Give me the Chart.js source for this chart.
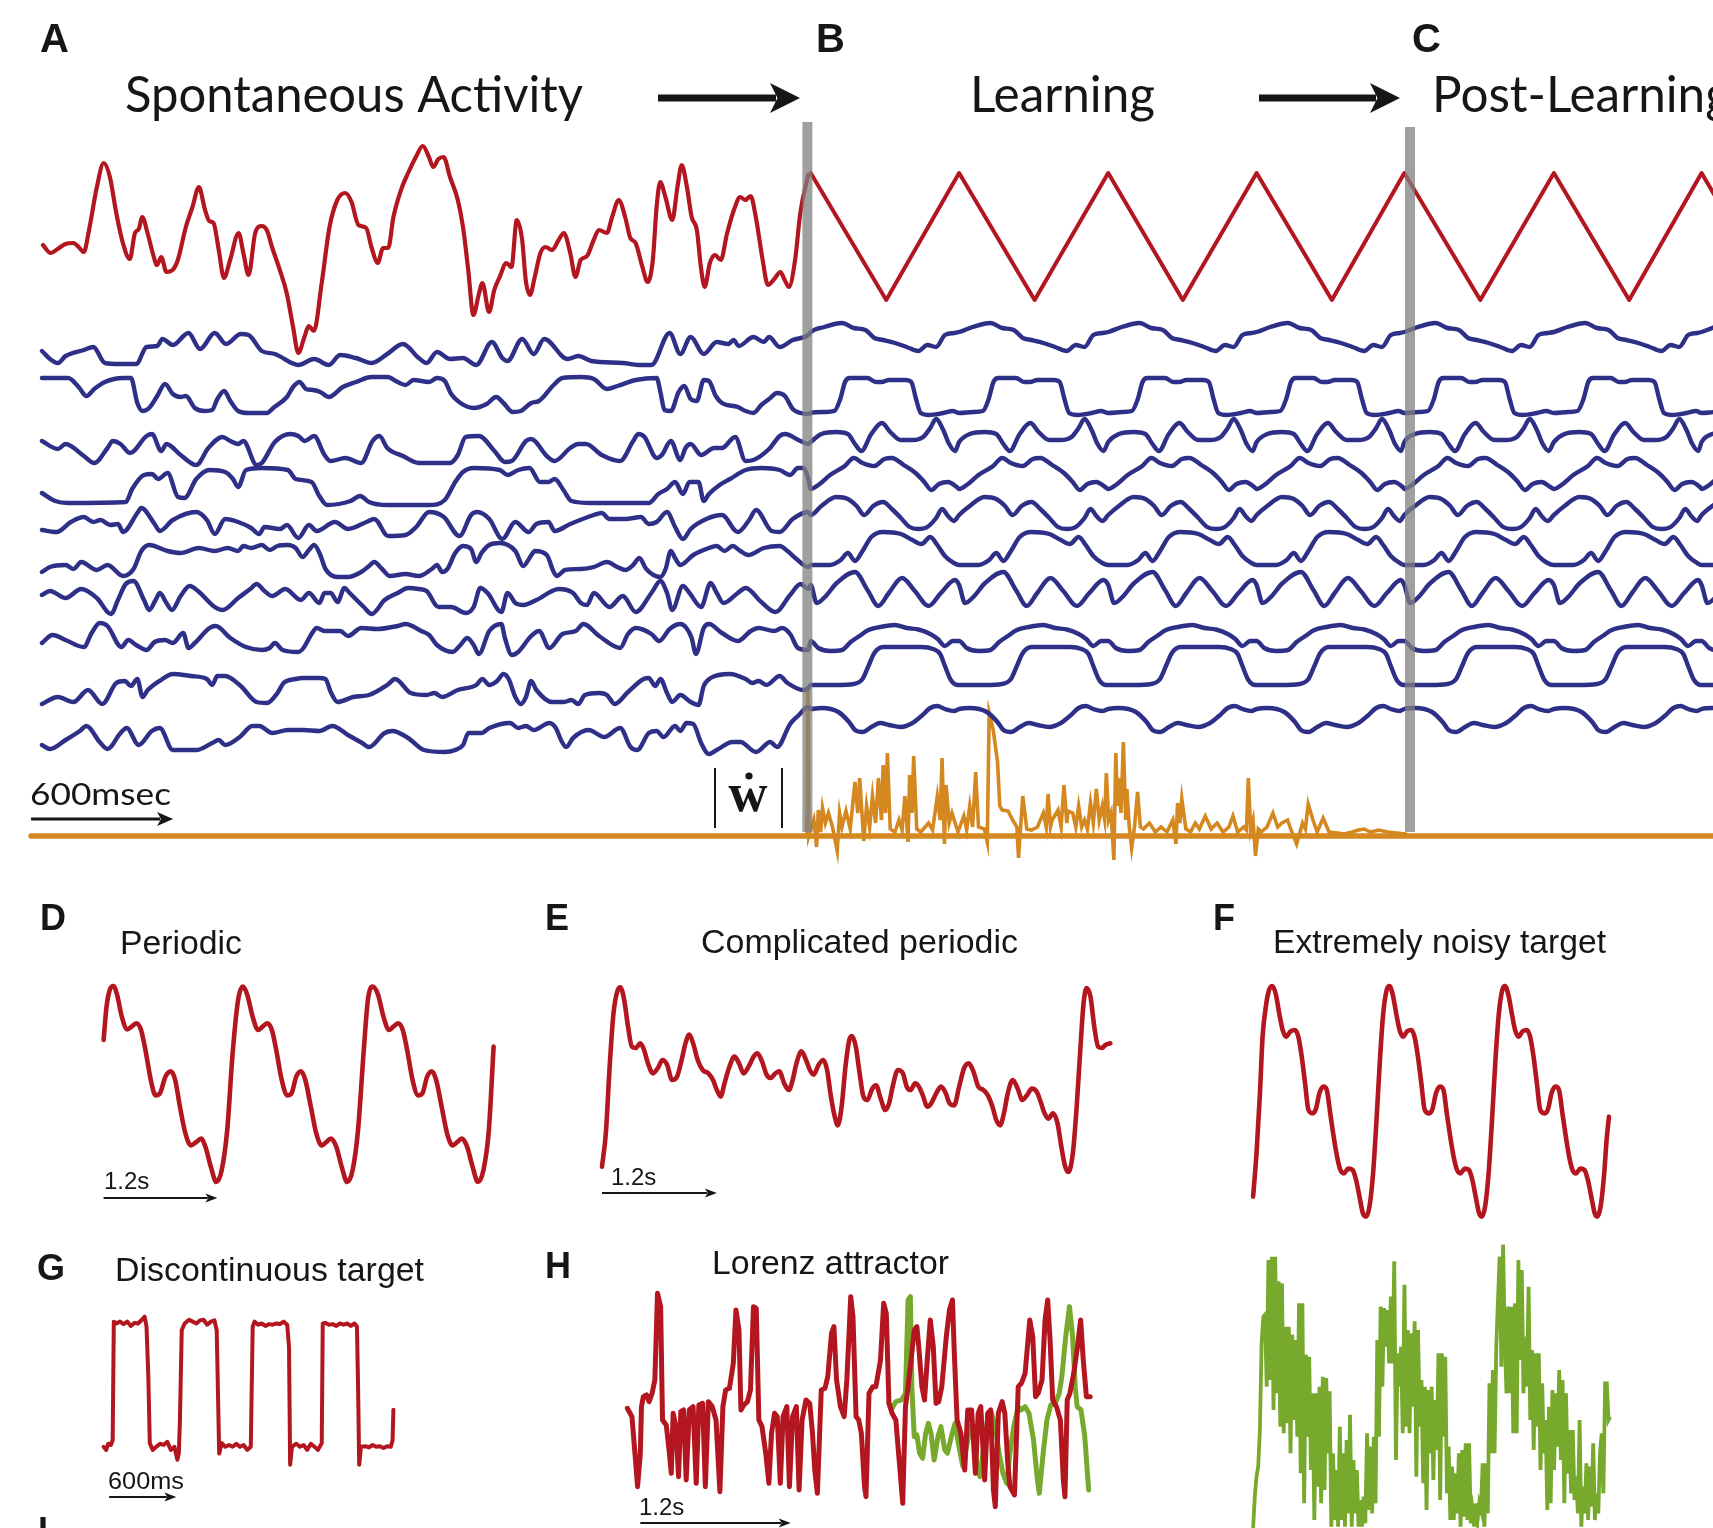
<!DOCTYPE html>
<html>
<head>
<meta charset="utf-8">
<title>FORCE learning: network activity and target functions</title>
<script src="https://cdn.jsdelivr.net/npm/chart.js@4.4.1/dist/chart.umd.min.js"></script>
<style>
  html, body { margin: 0; padding: 0; background: #ffffff; }
  #wrap { position: relative; width: 1713px; height: 1528px; overflow: hidden; }
  canvas { display: block; }
</style>
</head>
<body>
<div id="wrap"><canvas id="fig" width="1713" height="1528" style="width:1713px;height:1528px"></canvas></div>
<script>
// ================= DATA =================
// Panels A-C: time in ms, activity in arbitrary units (each trace relative to its own baseline).

// Readout z(t) during spontaneous activity
const spontRed = [[8,-0.9],[41,-1.7],[70,-1.3],[103,-0.8],[136,-0.7],[159,-1.1],[181,-1.6],[203,0.6],[236,4.9],[265,7.3],[291,5.9],[318,2.3],[346,-0.7],[375,-2.3],[397,0.3],[413,0.7],[428,1.9],[450,0.3],[472,-1.7],[490,-2.9],[508,-2.1],[530,-3.6],[556,-3.4],[578,-2.4],[612,0.9],[640,2.9],[667,4.9],[693,2.6],[711,1.5],[729,1.3],[751,-1.4],[773,-4.2],[799,-2.4],[835,0.3],[855,-1.7],[877,-3.9],[905,0.3],[932,1.0],[954,0.6],[976,-1.1],[1009,-3.4],[1038,-5.7],[1065,-9.1],[1087,-11.7],[1113,-10.1],[1131,-9.0],[1153,-9.5],[1186,-4.7],[1219,0.9],[1252,3.6],[1286,4.3],[1312,3.4],[1341,1.1],[1374,0.8],[1396,-1.1],[1423,-2.7],[1445,-1.2],[1467,-1.2],[1489,1.9],[1524,4.8],[1551,6.3],[1584,7.9],[1613,9.0],[1639,7.9],[1657,6.9],[1679,7.7],[1701,7.9],[1728,5.9],[1761,3.6],[1783,0.9],[1805,-3.4],[1827,-7.9],[1849,-5.9],[1865,-4.7],[1893,-7.6],[1915,-5.4],[1938,-4.1],[1966,-2.7],[1988,-3.1],[2010,1.6],[2033,-0.4],[2048,-4.4],[2066,-5.9],[2086,-4.1],[2110,-1.7],[2132,-1.1],[2159,-1.4],[2187,-0.4],[2209,0.3],[2236,-1.7],[2258,-4.1],[2280,-2.4],[2307,-2.0],[2335,-0.4],[2357,0.6],[2391,0.3],[2413,1.9],[2441,3.6],[2468,1.9],[2490,-0.2],[2512,-0.7],[2541,-3.1],[2563,-4.6],[2585,-2.4],[2601,2.9],[2616,5.4],[2638,3.9],[2667,1.6],[2689,4.9],[2707,7.1],[2729,4.9],[2749,1.9],[2771,0.6],[2788,-3.1],[2804,-5.1],[2826,-2.7],[2848,-1.9],[2872,-2.4],[2899,0.3],[2932,2.9],[2954,3.9],[2976,3.6],[2998,4.0],[3020,1.9],[3049,-2.4],[3071,-4.9],[3098,-4.3],[3124,-3.6],[3142,-4.4],[3160,-5.1],[3186,-2.4],[3208,2.3],[3241,6.1]];

// Triangle-wave output during and after learning (vertices)
const triangleRed = [[3252,6.3],[3571,-6.4],[3879,6.3],[4198,-6.4],[4509,6.3],[4824,-6.4],[5136,6.3],[5454,-6.4],[5760,6.3],[6081,-6.4],[6392,6.3],[6710,-6.4],[7016,6.3],[7330,-6.4]];

// Start times of each triangle cycle (peaks), used for the entrained unit activity
const cycleStarts = [3252, 3879, 4509, 5136, 5760, 6392, 7016];

// Times where learning switches on and off
const phaseChanges = [3238, 5784];

// Ten network units: spontaneous segment + one entrained cycle (phase in ms)
const unit1Spont = [[4,-0.6],[38,-1.4],[71,-1.8],[104,-1.1],[181,-0.5],[221,-0.2],[270,-1.8],[331,-1.9],[402,-1.9],[446,-0.2],[491,-0.1],[513,0.6],[557,0.0],[623,1.2],[672,-0.4],[734,1.2],[782,0.1],[844,1.1],[877,1.0],[933,-0.6],[988,-0.9],[1087,-2.0],[1154,-1.4],[1216,-2.0],[1264,-1.0],[1330,-1.3],[1397,-1.8],[1463,-0.9],[1529,0.1],[1596,-1.3],[1629,-1.8],[1673,-0.7],[1728,-1.4],[1783,-1.3],[1839,-2.0],[1905,0.3],[1949,-1.3],[1971,-1.6],[2033,0.6],[2082,-0.9],[2126,0.6],[2225,-1.4],[2270,-1.1],[2325,-1.6],[2458,-1.8],[2524,-2.0],[2579,-2.0],[2656,1.2],[2701,-0.9],[2745,0.8],[2800,-0.9],[2855,0.3],[2904,0.1],[2926,0.5],[2948,-0.1],[3010,0.8],[3054,0.3],[3076,0.8],[3121,-0.2],[3176,0.5],[3242,1.0]];
const unit1Cycle = [[0,1.3],[57,1.8],[132,2.2],[182,1.7],[231,1.5],[269,0.7],[306,0.5],[356,0.2],[405,-0.2],[455,-0.6],[493,0.0],[530,-0.2],[567,1.0],[605,1.2]];

const unit2Spont = [[4,1.7],[115,1.7],[159,0.8],[192,-0.1],[225,0.6],[270,1.3],[347,1.7],[380,1.7],[407,-0.8],[429,-1.6],[457,-1.3],[491,-0.1],[524,1.1],[557,0.1],[590,-0.2],[612,-0.1],[650,-1.3],[690,-1.6],[723,-1.5],[745,-0.4],[774,0.4],[800,-0.6],[833,-1.6],[877,-1.8],[955,-1.8],[981,-1.3],[1039,-0.2],[1065,0.8],[1092,1.3],[1120,0.6],[1149,0.5],[1180,0.3],[1216,-0.2],[1275,0.8],[1330,1.3],[1397,1.8],[1463,1.8],[1507,1.3],[1540,1.0],[1574,1.5],[1640,1.3],[1673,1.7],[1706,1.4],[1733,0.1],[1772,-0.8],[1828,-1.3],[1883,-0.9],[1923,-0.2],[1954,-0.8],[1993,-1.7],[2027,-1.6],[2071,-0.8],[2104,-0.6],[2166,1.0],[2203,1.7],[2281,1.8],[2336,1.6],[2391,0.6],[2435,0.9],[2513,1.5],[2601,1.7],[2617,0.3],[2634,-1.5],[2661,-1.6],[2694,0.3],[2718,0.9],[2745,-0.4],[2771,-0.6],[2800,1.5],[2822,1.4],[2851,-0.1],[2877,-0.8],[2944,-1.2],[2977,-1.6],[3010,-1.8],[3043,-1.0],[3076,-0.4],[3110,0.2],[3143,-0.1],[3176,-1.4],[3209,-1.8],[3242,-1.9]];
const unit2Cycle = [[0,-1.8],[60,-1.7],[100,-1.6],[125,-0.4],[145,1.3],[165,1.7],[240,1.7],[275,1.3],[300,1.3],[330,1.5],[400,1.5],[425,1.3],[445,-0.4],[465,-1.8],[500,-2.0],[560,-1.8],[600,-1.6]];

const unit3Spont = [[4,0.9],[71,0.1],[104,0.6],[181,-0.6],[225,-1.3],[281,0.2],[303,0.9],[336,0.6],[376,-0.3],[446,1.4],[469,1.6],[508,-0.1],[530,0.6],[590,-0.5],[656,-1.5],[707,0.2],[767,1.3],[800,0.9],[833,0.6],[855,0.9],[911,-1.5],[933,-1.3],[988,0.8],[1054,1.6],[1087,1.4],[1114,0.9],[1154,1.4],[1198,-0.5],[1224,-1.1],[1286,-0.8],[1353,-1.3],[1401,0.9],[1430,1.4],[1463,0.2],[1529,-0.6],[1596,-1.3],[1728,-1.3],[1761,-0.5],[1794,1.3],[1850,1.4],[1916,-0.1],[1960,-1.2],[1989,-1.1],[2049,0.9],[2071,1.1],[2137,-0.6],[2170,-1.1],[2236,0.2],[2270,0.6],[2303,0.6],[2369,-0.5],[2447,-1.1],[2502,0.9],[2524,1.6],[2550,1.3],[2601,-0.8],[2623,-0.5],[2661,0.9],[2701,-1.0],[2723,0.2],[2745,0.6],[2789,-0.5],[2844,0.2],[2877,0.2],[2933,1.3],[2977,-1.1],[3010,-1.0],[3076,0.1],[3121,1.4],[3143,1.6],[3209,0.9],[3242,0.6]];
const unit3Cycle = [[0,0.8],[45,1.6],[107,1.8],[157,1.6],[187,0.6],[214,-0.1],[256,1.6],[301,2.7],[336,1.8],[381,1.0],[430,1.0],[475,1.3],[505,2.2],[530,3.1],[560,2.0],[585,0.6],[610,-0.1]];

const unit4Spont = [[4,-0.6],[60,-1.4],[115,-1.6],[358,-1.5],[385,-0.2],[435,1.2],[469,1.3],[495,0.8],[535,1.4],[579,-1.0],[606,-1.1],[656,0.8],[712,1.7],[778,1.5],[811,0.8],[833,0.0],[866,1.7],[933,1.9],[1043,1.7],[1076,0.8],[1143,0.5],[1176,-0.9],[1209,-1.8],[1308,-1.4],[1348,-0.9],[1386,-1.5],[1463,-1.8],[1640,-1.8],[1706,-1.3],[1750,0.5],[1783,1.5],[1828,1.9],[1938,1.7],[1971,1.2],[2016,1.7],[2064,1.9],[2108,0.5],[2144,0.5],[2170,0.8],[2210,-0.4],[2241,-1.4],[2325,-1.6],[2568,-1.6],[2608,-0.7],[2645,-0.2],[2679,0.5],[2712,-0.7],[2740,0.5],[2778,0.5],[2800,-1.4],[2822,-0.7],[2867,0.2],[2911,0.8],[2977,1.7],[3043,1.9],[3121,1.7],[3165,1.2],[3198,1.9],[3220,1.9],[3242,0.8]];
const unit4Cycle = [[0,-0.2],[32,0.2],[82,1.2],[144,2.1],[182,2.9],[219,2.4],[269,2.1],[311,2.8],[343,2.9],[393,2.2],[443,1.4],[480,0.5],[510,-0.3],[542,0.3],[580,0.5],[617,0.0]];

const unit5Spont = [[4,-1.0],[66,-1.2],[126,-0.2],[181,0.3],[221,-0.2],[252,0.0],[292,-0.5],[325,-0.4],[347,-1.2],[407,0.7],[424,1.2],[480,-0.4],[502,-1.1],[557,0.0],[656,0.8],[701,0.0],[734,-1.4],[778,0.1],[833,-0.2],[888,-0.8],[922,-1.4],[944,-0.7],[1010,-0.9],[1039,-0.5],[1087,-1.8],[1132,-0.5],[1165,-1.1],[1242,-0.2],[1297,-0.9],[1375,-0.2],[1408,0.1],[1467,-1.6],[1540,-1.5],[1585,-0.7],[1640,0.8],[1702,0.3],[1768,-1.6],[1817,0.5],[1843,0.8],[1894,0.1],[1949,-1.9],[2004,-0.2],[2060,-1.2],[2093,-0.4],[2144,-0.2],[2170,-1.1],[2236,-0.4],[2336,0.5],[2369,0.7],[2402,0.1],[2469,0.1],[2535,0.3],[2568,-0.4],[2601,-0.2],[2645,0.8],[2679,-0.7],[2712,-1.9],[2745,-0.9],[2811,0.1],[2877,0.5],[2944,-1.2],[2992,0.0],[3021,1.0],[3087,-1.1],[3121,-1.2],[3176,0.1],[3242,0.8]];
const unit5Cycle = [[0,0.5],[45,1.4],[107,2.3],[157,2.1],[194,1.4],[226,0.5],[264,1.4],[306,1.8],[343,1.1],[381,0.2],[418,-0.7],[455,-0.9],[493,-0.7],[530,0.2],[555,1.1],[580,0.4],[605,-0.1]];

const unit6Spont = [[4,-1.4],[38,-0.9],[104,-0.7],[137,-1.1],[170,-0.4],[236,-1.2],[281,-0.7],[347,-1.8],[391,-1.1],[424,0.7],[457,1.3],[535,0.7],[590,0.5],[667,1.0],[734,0.7],[789,1.0],[833,0.7],[855,1.2],[888,1.0],[933,1.3],[966,0.8],[999,1.2],[1043,1.3],[1076,1.0],[1105,0.1],[1132,0.8],[1154,1.3],[1180,0.3],[1202,-1.1],[1253,-1.9],[1297,-1.9],[1353,-1.4],[1386,-0.8],[1408,-0.4],[1441,-1.1],[1474,-1.8],[1540,-1.6],[1596,-1.8],[1651,-1.1],[1673,-0.7],[1695,-1.4],[1717,-1.1],[1750,0.5],[1783,1.2],[1817,0.9],[1839,-0.4],[1861,0.5],[1894,1.3],[1938,1.5],[2004,0.7],[2038,-0.8],[2064,0.0],[2087,0.7],[2137,0.3],[2166,-1.4],[2179,-1.8],[2214,-1.2],[2281,-1.1],[2336,-0.9],[2391,-0.4],[2435,-0.9],[2469,-1.2],[2502,-0.7],[2528,0.0],[2557,-1.1],[2617,-1.9],[2639,-1.1],[2661,0.7],[2679,0.0],[2701,-0.7],[2756,0.3],[2822,1.0],[2855,1.2],[2888,0.7],[2922,1.2],[2955,0.7],[2988,0.3],[3054,1.0],[3121,1.2],[3154,0.7],[3187,0.0],[3242,-0.9]];
const unit6Cycle = [[0,-0.7],[82,-0.7],[127,-0.2],[157,0.5],[187,-0.3],[219,0.7],[256,2.1],[306,2.6],[381,2.4],[430,1.8],[468,1.4],[505,2.1],[535,1.3],[567,0.2],[605,-0.5]];

const unit7Spont = [[4,0.0],[38,0.4],[104,-0.3],[170,0.6],[236,-0.3],[296,-1.9],[325,-0.5],[358,1.1],[391,1.4],[435,-0.5],[457,-1.5],[484,-0.5],[502,0.2],[530,-0.8],[553,-1.5],[590,-0.1],[628,0.9],[663,0.4],[734,-1.2],[767,-1.5],[833,-0.3],[884,0.6],[911,1.1],[944,0.4],[977,-0.1],[1032,0.6],[1098,-0.5],[1132,0.2],[1176,-0.8],[1198,0.2],[1224,0.2],[1253,-0.7],[1282,0.7],[1304,0.2],[1364,-1.2],[1397,-1.9],[1452,-0.5],[1507,0.2],[1551,0.7],[1596,0.6],[1629,0.4],[1680,-1.2],[1733,-1.2],[1795,-1.8],[1828,-1.2],[1856,0.7],[1887,0.2],[1945,-1.7],[1971,0.2],[2004,-0.8],[2038,-1.0],[2093,-0.5],[2188,0.6],[2248,0.2],[2281,-0.8],[2307,-1.0],[2336,0.2],[2402,-1.2],[2458,-0.1],[2513,-1.7],[2579,0.2],[2617,1.4],[2645,0.2],[2667,-1.5],[2712,0.9],[2740,0.2],[2789,-1.2],[2829,1.2],[2855,0.2],[2884,-0.8],[2944,0.2],[2977,0.7],[3043,-0.7],[3103,-1.7],[3165,0.0],[3209,1.1],[3242,0.6]];
const unit7Cycle = [[0,1.0],[25,-0.8],[60,-0.2],[110,1.2],[187,2.3],[240,0.5],[286,-1.1],[330,0.2],[386,1.7],[440,0.4],[498,-1.1],[550,0.2],[610,1.5]];

const unit8Spont = [[4,-0.5],[49,0.3],[104,-0.2],[181,-0.9],[214,0.5],[248,1.5],[281,1.2],[340,-0.9],[369,-0.2],[402,-0.7],[446,-1.2],[480,-0.4],[524,-0.2],[557,-0.5],[601,0.5],[623,-1.0],[650,-0.5],[712,1.0],[738,1.2],[800,0.0],[866,-0.9],[933,-1.2],[966,-1.0],[988,-0.5],[1021,-1.2],[1087,-1.4],[1109,-1.0],[1143,0.4],[1165,1.0],[1198,0.7],[1264,0.7],[1297,0.2],[1353,1.0],[1419,0.9],[1507,1.2],[1540,1.4],[1607,0.7],[1640,0.3],[1673,-0.7],[1739,-1.4],[1772,-0.7],[1801,0.0],[1828,-0.7],[1850,-1.6],[1894,0.7],[1945,1.4],[1960,0.0],[1989,-1.7],[2016,-1.4],[2071,0.2],[2104,0.7],[2148,-1.0],[2203,0.4],[2259,0.7],[2292,1.4],[2358,0.2],[2447,-1.0],[2480,0.4],[2513,1.0],[2579,0.4],[2612,-0.3],[2656,0.9],[2701,1.4],[2727,1.0],[2749,0.0],[2767,-1.6],[2800,1.0],[2822,1.4],[2877,0.5],[2944,-0.3],[2999,0.7],[3032,1.0],[3098,0.7],[3131,1.0],[3165,0.4],[3198,-1.0],[3242,-1.2]];
const unit8Cycle = [[0,-0.3],[32,-1.0],[82,-1.3],[132,-1.2],[169,-0.4],[206,0.2],[244,0.8],[294,1.1],[356,1.3],[406,1.0],[455,0.85],[505,0.4],[537,-0.1],[567,-0.8],[600,-0.3]];

const unit9Spont = [[4,-1.9],[71,-1.2],[137,-1.7],[199,-0.5],[259,-1.9],[318,0.2],[354,0.4],[380,-0.1],[407,0.6],[429,-1.2],[451,-0.5],[513,0.6],[557,1.1],[634,0.9],[701,0.6],[723,0.0],[745,0.9],[778,0.9],[844,-0.1],[911,-1.7],[955,-1.8],[999,-0.8],[1025,0.2],[1076,0.6],[1109,0.7],[1176,0.7],[1202,0.6],[1224,-0.7],[1253,-1.7],[1319,-1.2],[1386,-1.0],[1463,0.0],[1496,0.6],[1562,-0.8],[1629,-1.0],[1662,-0.8],[1695,-1.2],[1761,-0.5],[1839,0.0],[1865,0.6],[1894,0.0],[1927,0.4],[1954,1.1],[1976,0.6],[2004,-1.2],[2027,-1.9],[2049,-1.2],[2071,0.4],[2093,-0.5],[2159,-1.7],[2210,-1.7],[2241,-1.5],[2270,-1.9],[2298,-1.0],[2358,-0.8],[2391,-1.0],[2424,-1.9],[2480,-0.7],[2546,0.6],[2568,0.7],[2595,-0.1],[2617,0.6],[2645,-0.8],[2667,-1.7],[2701,-1.0],[2745,-1.7],[2778,-2.0],[2800,-0.1],[2829,0.7],[2911,1.1],[2977,0.6],[3005,0.2],[3032,0.4],[3065,0.0],[3121,0.9],[3154,0.2],[3220,-0.5],[3242,-0.3]];
const unit9Cycle = [[0,0.0],[107,0.0],[182,0.1],[219,0.6],[244,1.9],[269,3.2],[306,3.8],[381,3.8],[468,3.8],[517,3.6],[547,3.1],[567,1.9],[592,0.5],[622,0.0]];

const unit10Spont = [[4,-1.0],[38,-1.4],[104,-0.5],[164,0.4],[192,0.9],[248,-0.7],[281,-1.4],[336,0.2],[362,0.7],[413,-1.0],[468,0.4],[502,0.7],[557,-1.5],[656,-1.5],[723,-0.8],[751,-0.5],[778,-1.0],[840,-0.2],[893,0.9],[922,0.9],[977,0.2],[1043,0.5],[1109,0.5],[1176,0.4],[1231,0.9],[1297,0.0],[1357,-0.8],[1386,-1.2],[1452,0.2],[1485,0.4],[1551,-0.3],[1618,-1.5],[1706,-1.7],[1750,-1.5],[1783,-1.0],[1806,0.2],[1861,0.2],[1894,0.7],[1982,1.2],[2016,0.7],[2049,0.9],[2082,0.5],[2148,1.2],[2175,0.7],[2197,-0.5],[2219,-1.2],[2248,-0.3],[2314,0.5],[2380,-0.2],[2447,0.7],[2491,-1.2],[2519,-1.5],[2568,0.2],[2601,0.4],[2630,-0.2],[2679,0.9],[2701,0.4],[2727,1.2],[2756,1.1],[2789,-0.8],[2822,-1.9],[2855,-1.5],[2922,-0.7],[2955,-0.7],[3021,-1.7],[3081,-0.7],[3110,-1.2],[3165,1.1],[3198,1.9],[3242,2.8]];
const unit10Cycle = [[0,2.6],[45,2.7],[117,2.3],[162,1.3],[187,0.5],[219,0.3],[256,0.8],[294,1.2],[331,1.0],[381,0.8],[430,1.2],[468,1.9],[505,2.7],[535,2.9],[567,2.6],[605,2.4]];

// |dw/dt|: zero outside learning, spiky during learning
const dwRest = [[-42,0],[3238,0],[5784,0],[7064,0]];
const dwLearning = [[3236,0],[3240,14.7],[3244,0],[3265,1.6],[3277,-1.1],[3284,2.6],[3294,0.4],[3302,2.8],[3314,1.3],[3327,2.3],[3344,0.9],[3364,-1.5],[3374,2.3],[3384,0.9],[3401,2.5],[3419,0.7],[3439,5.4],[3451,2.3],[3459,5.8],[3476,-0.5],[3488,3.0],[3501,0.9],[3513,4.0],[3526,1.3],[3538,5.8],[3551,1.6],[3558,7.1],[3568,2.3],[3576,8.3],[3588,0.7],[3608,0.4],[3625,1.6],[3638,0.6],[3650,4.0],[3663,-0.6],[3670,6.1],[3680,2.3],[3687,8.0],[3700,0.7],[3717,0.4],[3750,1.3],[3767,0.6],[3787,4.0],[3799,1.6],[3807,7.8],[3817,-0.8],[3824,5.1],[3837,1.3],[3849,2.3],[3874,0.4],[3899,2.0],[3911,0.6],[3924,3.0],[3936,0.9],[3949,6.4],[3961,0.9],[3986,0.7],[3998,-0.6],[4006,12.3],[4023,10.6],[4041,7.5],[4051,3.0],[4061,2.6],[4086,2.5],[4105,1.6],[4123,0.9],[4130,-2.2],[4148,4.0],[4165,0.7],[4185,0.6],[4210,0.9],[4235,2.3],[4247,0.9],[4255,4.2],[4265,0.9],[4272,1.6],[4297,2.6],[4310,0.9],[4322,5.1],[4334,1.3],[4339,2.5],[4359,2.3],[4372,0.9],[4384,3.0],[4397,0.9],[4409,1.6],[4421,0.7],[4434,3.3],[4446,1.3],[4459,4.7],[4471,1.6],[4484,3.0],[4494,1.6],[4501,6.3],[4511,1.6],[4521,2.3],[4533,-2.4],[4541,8.3],[4548,3.0],[4553,5.8],[4563,2.3],[4573,9.4],[4583,1.6],[4588,4.7],[4598,0.9],[4608,-1.2],[4620,0.9],[4633,4.4],[4645,0.9],[4658,0.7],[4683,1.3],[4708,0.4],[4732,0.9],[4757,0.4],[4782,1.6],[4795,-0.8],[4802,3.3],[4812,1.3],[4820,3.7],[4837,0.7],[4857,0.4],[4877,1.3],[4894,0.7],[4919,2.0],[4944,0.7],[4969,1.3],[4994,0.4],[5019,0.9],[5036,2.0],[5056,0.4],[5081,0.9],[5093,0.6],[5101,5.8],[5111,0.6],[5121,1.6],[5131,-2.0],[5143,0.7],[5155,0.4],[5180,0.9],[5205,2.3],[5225,0.9],[5243,1.3],[5267,1.6],[5280,0.7],[5305,-0.8],[5330,1.3],[5342,0.7],[5354,3.2],[5374,1.6],[5392,0.4],[5417,1.8],[5442,0.4],[5479,0.3],[5504,0.2],[5541,0.4],[5566,0.6],[5591,0.7],[5616,0.4],[5653,0.6],[5690,0.4],[5728,0.3],[5765,0.2],[5777,0.0]];

// Panels D-H: time in s, output in arbitrary units
const periodicOut = [[0,0.6],[0.031,1.1],[0.065,1.35],[0.104,1.41],[0.142,1.28],[0.192,0.95],[0.249,0.76],[0.295,0.8],[0.345,0.85],[0.395,0.75],[0.441,0.45],[0.498,0],[0.548,-0.23],[0.594,-0.2],[0.652,0.05],[0.709,0.13],[0.755,0],[0.805,-0.4],[0.863,-0.8],[0.92,-0.98],[0.978,-0.93],[1.028,-0.88],[1.074,-1],[1.131,-1.3],[1.189,-1.53],[1.246,-1.35],[1.304,-0.75],[1.361,0.4],[1.419,1.2],[1.469,1.4],[1.515,1.28],[1.572,0.95],[1.63,0.75],[1.676,0.8],[1.725,0.85],[1.775,0.75],[1.821,0.45],[1.879,0],[1.936,-0.23],[1.982,-0.2],[2.032,0.05],[2.082,0.13],[2.128,0],[2.186,-0.4],[2.243,-0.8],[2.301,-0.98],[2.35,-0.93],[2.396,-0.88],[2.454,-1],[2.511,-1.3],[2.569,-1.53],[2.627,-1.35],[2.684,-0.75],[2.742,0.4],[2.788,1.2],[2.837,1.4],[2.895,1.28],[2.952,0.95],[3.01,0.75],[3.056,0.8],[3.106,0.85],[3.156,0.75],[3.202,0.45],[3.259,0],[3.317,-0.23],[3.363,-0.2],[3.413,0.05],[3.462,0.13],[3.508,0],[3.566,-0.4],[3.623,-0.8],[3.681,-0.98],[3.731,-0.93],[3.777,-0.88],[3.834,-1],[3.892,-1.3],[3.949,-1.53],[4.007,-1.35],[4.064,-0.75],[4.114,0.5]];

const complicatedOut = [[0,-1.3],[0.04,-0.8],[0.08,0.2],[0.12,1.0],[0.16,1.33],[0.192,1.39],[0.232,1.2],[0.272,0.8],[0.312,0.5],[0.352,0.48],[0.4,0.55],[0.44,0.45],[0.48,0.25],[0.532,0.1],[0.584,0.18],[0.632,0.3],[0.68,0.23],[0.732,0],[0.784,0.05],[0.832,0.3],[0.872,0.55],[0.912,0.68],[0.952,0.55],[1.0,0.3],[1.052,0.15],[1.112,0.1],[1.16,0],[1.2,-0.15],[1.24,-0.25],[1.28,-0.05],[1.332,0.2],[1.384,0.35],[1.432,0.25],[1.48,0.1],[1.532,0.2],[1.584,0.35],[1.624,0.4],[1.672,0.28],[1.72,0.08],[1.76,0.03],[1.812,0.1],[1.852,0.13],[1.904,-0.05],[1.952,-0.15],[1.992,0],[2.032,0.25],[2.084,0.43],[2.132,0.3],[2.172,0.15],[2.212,0.08],[2.264,0.23],[2.312,0.3],[2.352,0.15],[2.392,-0.25],[2.432,-0.55],[2.464,-0.68],[2.504,-0.4],[2.544,0.2],[2.584,0.6],[2.612,0.66],[2.652,0.5],[2.692,0.1],[2.732,-0.25],[2.772,-0.3],[2.824,-0.13],[2.864,-0.08],[2.912,-0.28],[2.96,-0.45],[3.0,-0.35],[3.04,-0.08],[3.092,0.15],[3.144,0.1],[3.184,-0.1],[3.224,-0.15],[3.272,-0.05],[3.312,-0.1],[3.352,-0.23],[3.4,-0.4],[3.44,-0.35],[3.492,-0.2],[3.544,-0.1],[3.592,-0.2],[3.632,-0.35],[3.68,-0.38],[3.732,-0.1],[3.784,0.18],[3.832,0.25],[3.88,0.13],[3.932,-0.1],[3.984,-0.15],[4.032,-0.23],[4.08,-0.4],[4.12,-0.6],[4.16,-0.68],[4.2,-0.5],[4.24,-0.2],[4.292,0],[4.344,-0.13],[4.392,-0.3],[4.44,-0.23],[4.492,-0.13],[4.544,-0.18],[4.584,-0.33],[4.624,-0.5],[4.664,-0.58],[4.712,-0.5],[4.76,-0.65],[4.8,-1.0],[4.84,-1.3],[4.872,-1.38],[4.92,-1.1],[4.96,-0.4],[5.0,0.5],[5.032,1.15],[5.064,1.38],[5.104,1.25],[5.144,0.8],[5.184,0.5],[5.224,0.48],[5.264,0.53],[5.312,0.55]];

const noisyTargetOut = [[0,-1.75],[0.036,-1.1],[0.072,-0.2],[0.1,0.65],[0.132,1.08],[0.168,1.35],[0.204,1.41],[0.24,1.28],[0.275,1.0],[0.311,0.75],[0.347,0.65],[0.394,0.73],[0.44,0.75],[0.476,0.65],[0.512,0.35],[0.547,-0.05],[0.583,-0.45],[0.626,-0.5],[0.662,-0.43],[0.698,-0.2],[0.741,-0.1],[0.776,-0.15],[0.812,-0.5],[0.848,-0.85],[0.884,-1.15],[0.919,-1.35],[0.955,-1.4],[1.002,-1.33],[1.048,-1.35],[1.084,-1.5],[1.12,-1.75],[1.156,-2.0],[1.191,-2.05],[1.227,-1.88],[1.263,-1.4],[1.299,-0.6],[1.335,0.3],[1.37,1.0],[1.406,1.35],[1.435,1.41],[1.47,1.28],[1.506,1.0],[1.542,0.75],[1.578,0.65],[1.621,0.73],[1.664,0.75],[1.699,0.65],[1.735,0.35],[1.771,-0.05],[1.807,-0.45],[1.853,-0.5],[1.889,-0.43],[1.925,-0.2],[1.968,-0.1],[2.004,-0.15],[2.039,-0.5],[2.075,-0.85],[2.111,-1.15],[2.147,-1.35],[2.182,-1.4],[2.229,-1.33],[2.272,-1.35],[2.308,-1.5],[2.343,-1.75],[2.379,-2.0],[2.408,-2.05],[2.444,-1.88],[2.479,-1.4],[2.515,-0.6],[2.551,0.3],[2.587,1.0],[2.623,1.35],[2.651,1.41],[2.687,1.28],[2.723,1.0],[2.758,0.75],[2.794,0.65],[2.837,0.73],[2.88,0.75],[2.916,0.65],[2.952,0.35],[2.987,-0.05],[3.023,-0.45],[3.07,-0.5],[3.106,-0.43],[3.141,-0.2],[3.184,-0.1],[3.22,-0.15],[3.256,-0.5],[3.292,-0.85],[3.327,-1.15],[3.363,-1.35],[3.399,-1.4],[3.445,-1.33],[3.488,-1.35],[3.524,-1.5],[3.56,-1.75],[3.596,-2.0],[3.624,-2.05],[3.66,-1.88],[3.696,-1.4],[3.721,-0.9],[3.746,-0.55]];

// Noisy target itself, sampled every noisyDt seconds
const noisyDt = 0.0179;
const noisyTargetRaw = [-1.62,-1.15,-0.85,-0.70,-0.15,1.15,1.55,1.58,0.50,2.40,0.60,2.45,0.15,2.45,0.40,2.08,-0.10,2.05,-0.20,1.40,-0.05,1.40,-0.50,1.28,0.00,1.20,-0.25,1.75,-0.80,1.75,-1.25,0.98,-0.25,0.95,-0.75,0.40,-1.50,0.40,-1.00,0.50,-1.25,0.65,-1.05,0.63,-0.50,0.43,-1.60,-0.50,-1.50,-0.75,-1.60,-0.10,-1.50,-0.50,-1.60,-0.30,-1.40,0.08,-1.60,-0.60,-1.40,-0.75,-1.60,-1.20,-1.60,-1.15,-1.55,-0.20,-1.35,-0.40,-1.40,-0.25,-1.25,1.20,-0.25,1.70,0.50,1.68,1.10,1.65,0.85,1.85,0.85,2.38,-0.60,1.00,0.50,1.10,-0.20,2.03,-0.10,1.35,-0.20,1.30,0.20,1.48,-0.85,1.35,-0.10,0.60,-0.95,0.50,-1.35,0.45,-0.50,0.50,-0.90,0.30,-0.45,1.00,-1.20,1.00,-0.25,0.95,-1.10,-0.40,-1.50,-0.70,-1.50,-0.80,-1.40,-0.50,-1.60,-0.45,-1.45,-0.35,-1.50,-0.35,-1.55,-1.35,-1.60,-1.25,-1.50,-1.25,-1.35,-0.65,-1.60,-0.65,-1.40,0.55,-0.50,0.75,-0.50,1.10,1.80,2.45,0.80,2.63,1.20,0.40,1.70,0.40,1.70,-0.20,1.75,-0.20,2.40,0.90,2.25,0.40,1.25,0.50,2.00,0.00,1.05,-0.45,1.00,-0.10,1.00,-0.75,0.55,-0.50,0.00,-1.35,0.20,-1.25,0.45,-0.75,0.40,-0.40,0.75,-0.60,0.60,-1.25,0.40,-0.80,-0.15,-1.10,-0.15,-1.20,-0.85,-1.40,0.00,-1.60,-1.00,-1.40,-0.65,-1.50,-0.70,-1.30,-0.35,-1.50,-1.10,-1.40,-0.50,-0.20,-1.10,0.55,0.55,0.00,0.05];

const discontinuousOut = [[0,-1.03],[0.023,-1.08],[0.042,-0.98],[0.065,-1.0],[0.081,-0.92],[0.091,1.0],[0.114,0.97],[0.146,1.0],[0.178,0.96],[0.211,1.0],[0.243,0.93],[0.276,0.98],[0.308,0.97],[0.341,1.03],[0.366,1.08],[0.383,0.92],[0.399,0.11],[0.412,-0.97],[0.438,-1.08],[0.47,-1.03],[0.503,-0.98],[0.535,-1.0],[0.568,-0.95],[0.6,-1.08],[0.632,-1.03],[0.658,-1.24],[0.671,-1.14],[0.681,-0.59],[0.697,0.86],[0.723,0.97],[0.762,1.03],[0.795,1.0],[0.827,0.97],[0.859,1.02],[0.892,1.03],[0.924,0.95],[0.957,1.0],[0.989,1.02],[1.009,0.86],[1.022,-0.32],[1.031,-1.14],[1.054,-0.97],[1.086,-1.03],[1.119,-1.0],[1.151,-1.03],[1.184,-0.98],[1.216,-1.03],[1.249,-1.0],[1.281,-1.08],[1.313,-1.03],[1.33,0.92],[1.346,1.0],[1.378,0.95],[1.411,0.97],[1.443,0.93],[1.476,0.96],[1.508,0.95],[1.54,0.97],[1.573,0.96],[1.605,1.0],[1.638,0.95],[1.654,0.59],[1.664,-1.32],[1.68,-1.03],[1.719,-0.98],[1.751,-1.03],[1.784,-1.0],[1.816,-1.08],[1.849,-0.98],[1.881,-1.03],[1.913,-1.08],[1.946,-0.97],[1.955,0.97],[1.978,0.98],[2.011,0.95],[2.043,0.96],[2.076,0.93],[2.108,0.97],[2.14,0.95],[2.173,0.97],[2.205,0.93],[2.238,0.97],[2.26,0.92],[2.27,-0.05],[2.28,-1.32],[2.296,-1.03],[2.335,-1.02],[2.367,-1.04],[2.4,-1.0],[2.432,-1.03],[2.465,-1.02],[2.497,-1.05],[2.53,-1.02],[2.562,-1.03],[2.578,-0.92],[2.585,-0.43]];

const lorenzTarget = [[0,-0.75],[0.037,-2.0],[0.061,-7.5],[0.082,-12.5],[0.104,-7.5],[0.113,-0.5],[0.128,1.0],[0.153,1.25],[0.174,0.25],[0.198,1.5],[0.22,3.5],[0.241,16.5],[0.266,14.5],[0.281,-2.5],[0.311,-3.25],[0.336,-7.5],[0.351,-10.5],[0.366,-1.5],[0.388,-3.5],[0.409,-11.0],[0.427,-1.25],[0.449,-1.0],[0.47,-11.5],[0.495,-1.0],[0.525,-0.5],[0.55,-12.0],[0.571,-0.25],[0.601,0.0],[0.623,-12.5],[0.647,0.25],[0.678,-0.5],[0.708,-2.5],[0.739,-13.25],[0.763,-0.5],[0.785,2.0],[0.815,2.25],[0.846,6.0],[0.867,14.0],[0.891,11.0],[0.907,-1.0],[0.931,-0.25],[0.959,0.25],[0.983,2.0],[1.007,14.5],[1.029,14.25],[1.05,-2.5],[1.075,-3.5],[1.105,-7.5],[1.13,-12.0],[1.151,-4.5],[1.175,-1.5],[1.197,-2.0],[1.221,-12.0],[1.243,-2.0],[1.273,-0.5],[1.294,-12.5],[1.319,-2.0],[1.349,-0.5],[1.371,-13.0],[1.395,-2.5],[1.426,0.5],[1.456,0.0],[1.478,-4.5],[1.496,-10.0],[1.517,-13.5],[1.548,2.0],[1.578,2.25],[1.6,4.0],[1.63,10.5],[1.649,11.5],[1.67,3.5],[1.701,-0.5],[1.731,-2.0],[1.752,3.5],[1.771,11.0],[1.783,16.0],[1.801,13.0],[1.826,-2.0],[1.847,-2.5],[1.868,-4.5],[1.893,-12.5],[1.905,-14.0],[1.929,1.5],[1.96,2.5],[1.984,2.5],[2.021,6.5],[2.046,15.0],[2.067,13.5],[2.088,0.0],[2.113,-1.5],[2.143,-2.5],[2.174,-9.5],[2.198,-15.0],[2.22,-0.5],[2.241,2.5],[2.265,6.5],[2.29,11.0],[2.311,11.5],[2.326,8.5],[2.351,2.5],[2.372,0.5],[2.394,6.5],[2.418,12.5],[2.442,8.5],[2.464,0.0],[2.485,0.25],[2.51,2.5],[2.546,10.0],[2.571,14.0],[2.595,15.5],[2.61,7.5],[2.632,-2.5],[2.662,-4.5],[2.693,-10.0],[2.717,-1.0],[2.748,-1.0],[2.778,-10.5],[2.8,-1.5],[2.821,-0.5],[2.852,-11.5],[2.876,-1.5],[2.9,-1.0],[2.922,-13.0],[2.937,-15.5],[2.961,-1.5],[2.992,0.25],[3.013,-1.5],[3.035,-8.5],[3.053,-12.5],[3.09,-13.75],[3.12,2.5],[3.145,3.0],[3.175,4.5],[3.212,12.5],[3.236,10.0],[3.258,1.0],[3.279,1.5],[3.31,3.5],[3.334,12.5],[3.355,15.5],[3.374,9.5],[3.395,0.5],[3.425,-0.5],[3.456,-2.5],[3.48,-11.5],[3.493,-14.0],[3.511,0.5],[3.532,1.5],[3.563,4.5],[3.593,8.5],[3.618,12.5],[3.639,6.5],[3.664,1.0],[3.694,1.0]];

const lorenzNetwork = [[2.088,0.0],[2.113,-0.75],[2.143,0.25],[2.189,0.5],[2.22,1.5],[2.241,15.5],[2.259,16.0],[2.271,2.5],[2.29,-5.0],[2.311,-4.75],[2.333,-7.5],[2.357,-8.25],[2.381,-4.5],[2.403,-3.0],[2.424,-4.5],[2.449,-8.5],[2.479,-5.0],[2.503,-3.5],[2.534,-7.0],[2.555,-7.5],[2.586,-5.0],[2.616,-3.0],[2.647,-6.5],[2.678,-9.5],[2.708,-6.5],[2.739,-3.5],[2.769,-4.5],[2.79,-9.5],[2.815,-11.0],[2.845,-6.5],[2.876,-2.5],[2.906,-1.5],[2.937,-3.5],[2.967,-7.5],[2.998,-10.5],[3.029,-12.0],[3.053,-7.5],[3.084,-3.5],[3.12,-0.5],[3.145,-1.0],[3.175,-0.5],[3.206,-1.5],[3.242,-5.5],[3.273,-11.5],[3.288,-13.5],[3.319,-7.5],[3.349,-2.5],[3.38,-0.25],[3.416,0.0],[3.447,1.5],[3.468,4.0],[3.499,10.0],[3.529,14.5],[3.554,10.0],[3.575,2.5],[3.59,-0.5],[3.621,-1.0],[3.651,-5.0],[3.682,-13.0]];

// ================= LAYOUT & STYLE =================
const W = 1713, H = 1528;
const RED = '#B3161F', BLUE = '#2E3087', ORANGE = '#D4881F', GREEN = '#77A92D', INK = '#161616';
const SANS = '"Liberation Sans", Arial, sans-serif';
const TITLE = 'Lato, "Open Sans", sans-serif';

// A data frame maps value 0 to a pixel origin with a given pixel-per-unit factor.
function spanX(x0, k) { return { min: -x0 / k, max: (W - x0) / k }; }
function spanY(y0, k) { return { min: (y0 - H) / k, max: y0 / k }; }

const unitBaselines = [345, 395, 450, 487, 520, 558, 595, 638, 685, 735];

const scales = {
  xTop: spanX(41, 1 / 4.225),
  yRed: spanY(236, 10),
  yDw: spanY(836, 10),
  xD: spanX(103.6, 94.8), yD: spanY(1080, 66.67),
  xE: spanX(602, 95.7),   yE: spanY(1080, 66.67),
  xF: spanX(1253.1, 95.0), yF: spanY(1080, 66.67), yN: spanY(1420, 66.67),
  xG: spanX(103.6, 112.1), yG: spanY(1383.3, 61.67),
  xH: spanX(627.3, 125.3), yH: spanY(1403.3, 6.667)
};
unitBaselines.forEach((b, i) => { scales['yU' + (i + 1)] = spanY(b, 10); });
Object.keys(scales).forEach(k => {
  Object.assign(scales[k], { type: 'linear', display: false, grace: 0, ticks: { display: false }, grid: { display: false } });
});

const xy = pairs => pairs.map(([x, y]) => ({ x, y }));
const withCycles = (spont, cycle) => {
  const pts = spont.slice();
  cycleStarts.forEach(s => cycle.forEach(([p, v]) => pts.push([s + p, v])));
  return pts;
};

const unitSpont = [unit1Spont, unit2Spont, unit3Spont, unit4Spont, unit5Spont, unit6Spont, unit7Spont, unit8Spont, unit9Spont, unit10Spont];
const unitCycle = [unit1Cycle, unit2Cycle, unit3Cycle, unit4Cycle, unit5Cycle, unit6Cycle, unit7Cycle, unit8Cycle, unit9Cycle, unit10Cycle];

const smooth = { cubicInterpolationMode: 'monotone', pointRadius: 0, fill: false, borderJoinStyle: 'round', borderCapStyle: 'round' };
const sharp = { tension: 0, pointRadius: 0, fill: false, borderJoinStyle: 'round', borderCapStyle: 'round' };

const datasets = [];
// Top: readout
datasets.push(Object.assign({ data: xy(spontRed), xAxisID: 'xTop', yAxisID: 'yRed', borderColor: RED, borderWidth: 4.2 }, smooth));
datasets.push(Object.assign({ data: xy(triangleRed), xAxisID: 'xTop', yAxisID: 'yRed', borderColor: RED, borderWidth: 4 }, sharp));
// Top: units
unitSpont.forEach((sp, i) => {
  datasets.push(Object.assign({ data: xy(withCycles(sp, unitCycle[i])), xAxisID: 'xTop', yAxisID: 'yU' + (i + 1), borderColor: BLUE, borderWidth: 4.4 }, smooth));
});
// Top: weight change
datasets.push({ data: xy(dwLearning), xAxisID: 'xTop', yAxisID: 'yDw', borderColor: ORANGE, borderWidth: 3.6, tension: 0, pointRadius: 0, fill: false, borderJoinStyle: 'miter' });
datasets.push(Object.assign({ data: xy(dwRest), xAxisID: 'xTop', yAxisID: 'yDw', borderColor: ORANGE, borderWidth: 5.5 }, sharp));
// D, E, F
datasets.push(Object.assign({ data: xy(periodicOut), xAxisID: 'xD', yAxisID: 'yD', borderColor: RED, borderWidth: 4.6 }, smooth));
datasets.push(Object.assign({ data: xy(complicatedOut), xAxisID: 'xE', yAxisID: 'yE', borderColor: RED, borderWidth: 4.6 }, smooth));
datasets.push(Object.assign({ data: xy(noisyTargetOut), xAxisID: 'xF', yAxisID: 'yF', borderColor: RED, borderWidth: 4.6 }, smooth));
datasets.push({ data: noisyTargetRaw.map((v, i) => ({ x: i * noisyDt, y: v })), xAxisID: 'xF', yAxisID: 'yN', borderColor: GREEN, borderWidth: 3.8, borderJoinStyle: 'miter', tension: 0, pointRadius: 0, fill: false });
// G
datasets.push(Object.assign({ data: xy(discontinuousOut), xAxisID: 'xG', yAxisID: 'yG', borderColor: RED, borderWidth: 4 }, sharp));
// H (target drawn over the network output)
datasets.push(Object.assign({ data: xy(lorenzTarget), xAxisID: 'xH', yAxisID: 'yH', borderColor: RED, borderWidth: 5 }, sharp));
datasets.push(Object.assign({ data: xy(lorenzNetwork), xAxisID: 'xH', yAxisID: 'yH', borderColor: GREEN, borderWidth: 5 }, sharp));

// ================= ANNOTATIONS =================
function fitText(c, text, x, baseline, font, width) {
  c.font = font;
  const w = c.measureText(text).width;
  const sx = width ? width / w : 1;
  c.save();
  c.translate(x, baseline);
  c.scale(sx, 1);
  c.fillText(text, 0, 0);
  c.restore();
  return sx;
}
function blockArrow(c, x1, x2, y, lw, hl, hh) {
  c.fillRect(x1, y - lw / 2, x2 - hl * 0.8 - x1, lw);
  c.beginPath();
  c.moveTo(x2, y);
  c.lineTo(x2 - hl, y - hh);
  c.lineTo(x2 - hl * 0.75, y);
  c.lineTo(x2 - hl, y + hh);
  c.closePath();
  c.fill();
}
function scaleBar(c, scale, t0, t1, y, lw, hl, hh) {
  const x1 = scale.getPixelForValue(t0), x2 = scale.getPixelForValue(t1);
  blockArrow(c, x1, x2, y, lw, hl, hh);
}

const decor = {
  id: 'decor',
  afterDatasetsDraw(chart) {
    const c = chart.ctx, s = chart.scales;
    c.save();
    // learning on / off markers
    const barTop = [122, 127], barBottom = [832, 832];
    c.fillStyle = 'rgba(128,128,128,0.75)';
    phaseChanges.forEach((t, i) => {
      const x = s.xTop.getPixelForValue(t);
      c.fillRect(x - 5, barTop[i], 10, barBottom[i] - barTop[i]);
    });

    c.fillStyle = INK;
    c.textBaseline = 'alphabetic';
    c.textAlign = 'left';
    // panel letters
    c.font = 'bold 40px ' + SANS;
    c.fillText('A', 40, 52);
    c.fillText('B', 816, 52);
    c.fillText('C', 1412, 52);
    c.font = 'bold 36px ' + SANS;
    c.fillText('D', 40, 930);
    c.fillText('E', 545, 930);
    c.fillText('F', 1213, 930);
    c.fillText('G', 37, 1280);
    c.fillText('H', 545, 1278);
    c.fillText('I', 38, 1543);

    // phase titles
    fitText(c, 'Spontaneous Activity', 125, 112, '50px ' + TITLE, 458);
    const sx = fitText(c, 'Learning', 970, 112, '50px ' + TITLE, 185);
    c.font = '50px ' + TITLE;
    c.save(); c.translate(1432, 112); c.scale(sx, 1); c.fillText('Post-Learning', 0, 0); c.restore();
    blockArrow(c, 658, 800, 98, 7, 30, 15);
    blockArrow(c, 1259, 1400, 98, 7, 30, 15);

    // time scale for A-C
    fitText(c, '600msec', 30, 805, '30px ' + TITLE, 141);
    scaleBar(c, s.xTop, -42, 558, 819, 3, 16, 7);

    // |w-dot| label
    c.fillRect(714, 768, 2, 60);
    c.fillRect(781, 768, 2, 60);
    c.font = 'bold 54px "Liberation Serif", serif';
    c.textAlign = 'center';
    c.fillText('w', 748, 811);
    c.beginPath(); c.arc(749, 776, 3.6, 0, Math.PI * 2); c.fill();
    c.textAlign = 'left';

    // bottom panel titles
    fitText(c, 'Periodic', 120, 954, '33px ' + SANS, 122);
    fitText(c, 'Complicated periodic', 701, 953, '33px ' + SANS, 317);
    fitText(c, 'Extremely noisy target', 1273, 953, '33px ' + SANS, 333);
    fitText(c, 'Discontinuous target', 115, 1281, '33px ' + SANS, 309);
    fitText(c, 'Lorenz attractor', 712, 1274, '33px ' + SANS, 237);

    // time scales for D, E, G, H
    c.font = '24px ' + SANS;
    c.fillText('1.2s', 104, 1189);
    scaleBar(c, s.xD, 0, 1.2, 1198, 2, 12, 4.5);
    c.fillText('1.2s', 611, 1185);
    scaleBar(c, s.xE, 0, 1.2, 1193, 2, 12, 4.5);
    fitText(c, '600ms', 108, 1489, '24px ' + SANS, 76);
    scaleBar(c, s.xG, 0.049, 0.649, 1497, 2, 12, 4.5);
    c.font = '24px ' + SANS;
    c.fillText('1.2s', 639, 1515);
    scaleBar(c, s.xH, 0.104, 1.304, 1523, 2, 12, 4.5);
    c.restore();
  }
};

new Chart(document.getElementById('fig'), {
  type: 'line',
  data: { datasets },
  options: {
    responsive: false,
    animation: false,
    events: [],
    parsing: true,
    layout: { padding: 0 },
    scales,
    plugins: { legend: { display: false }, tooltip: { enabled: false } }
  },
  plugins: [decor]
});
</script>
</body>
</html>
